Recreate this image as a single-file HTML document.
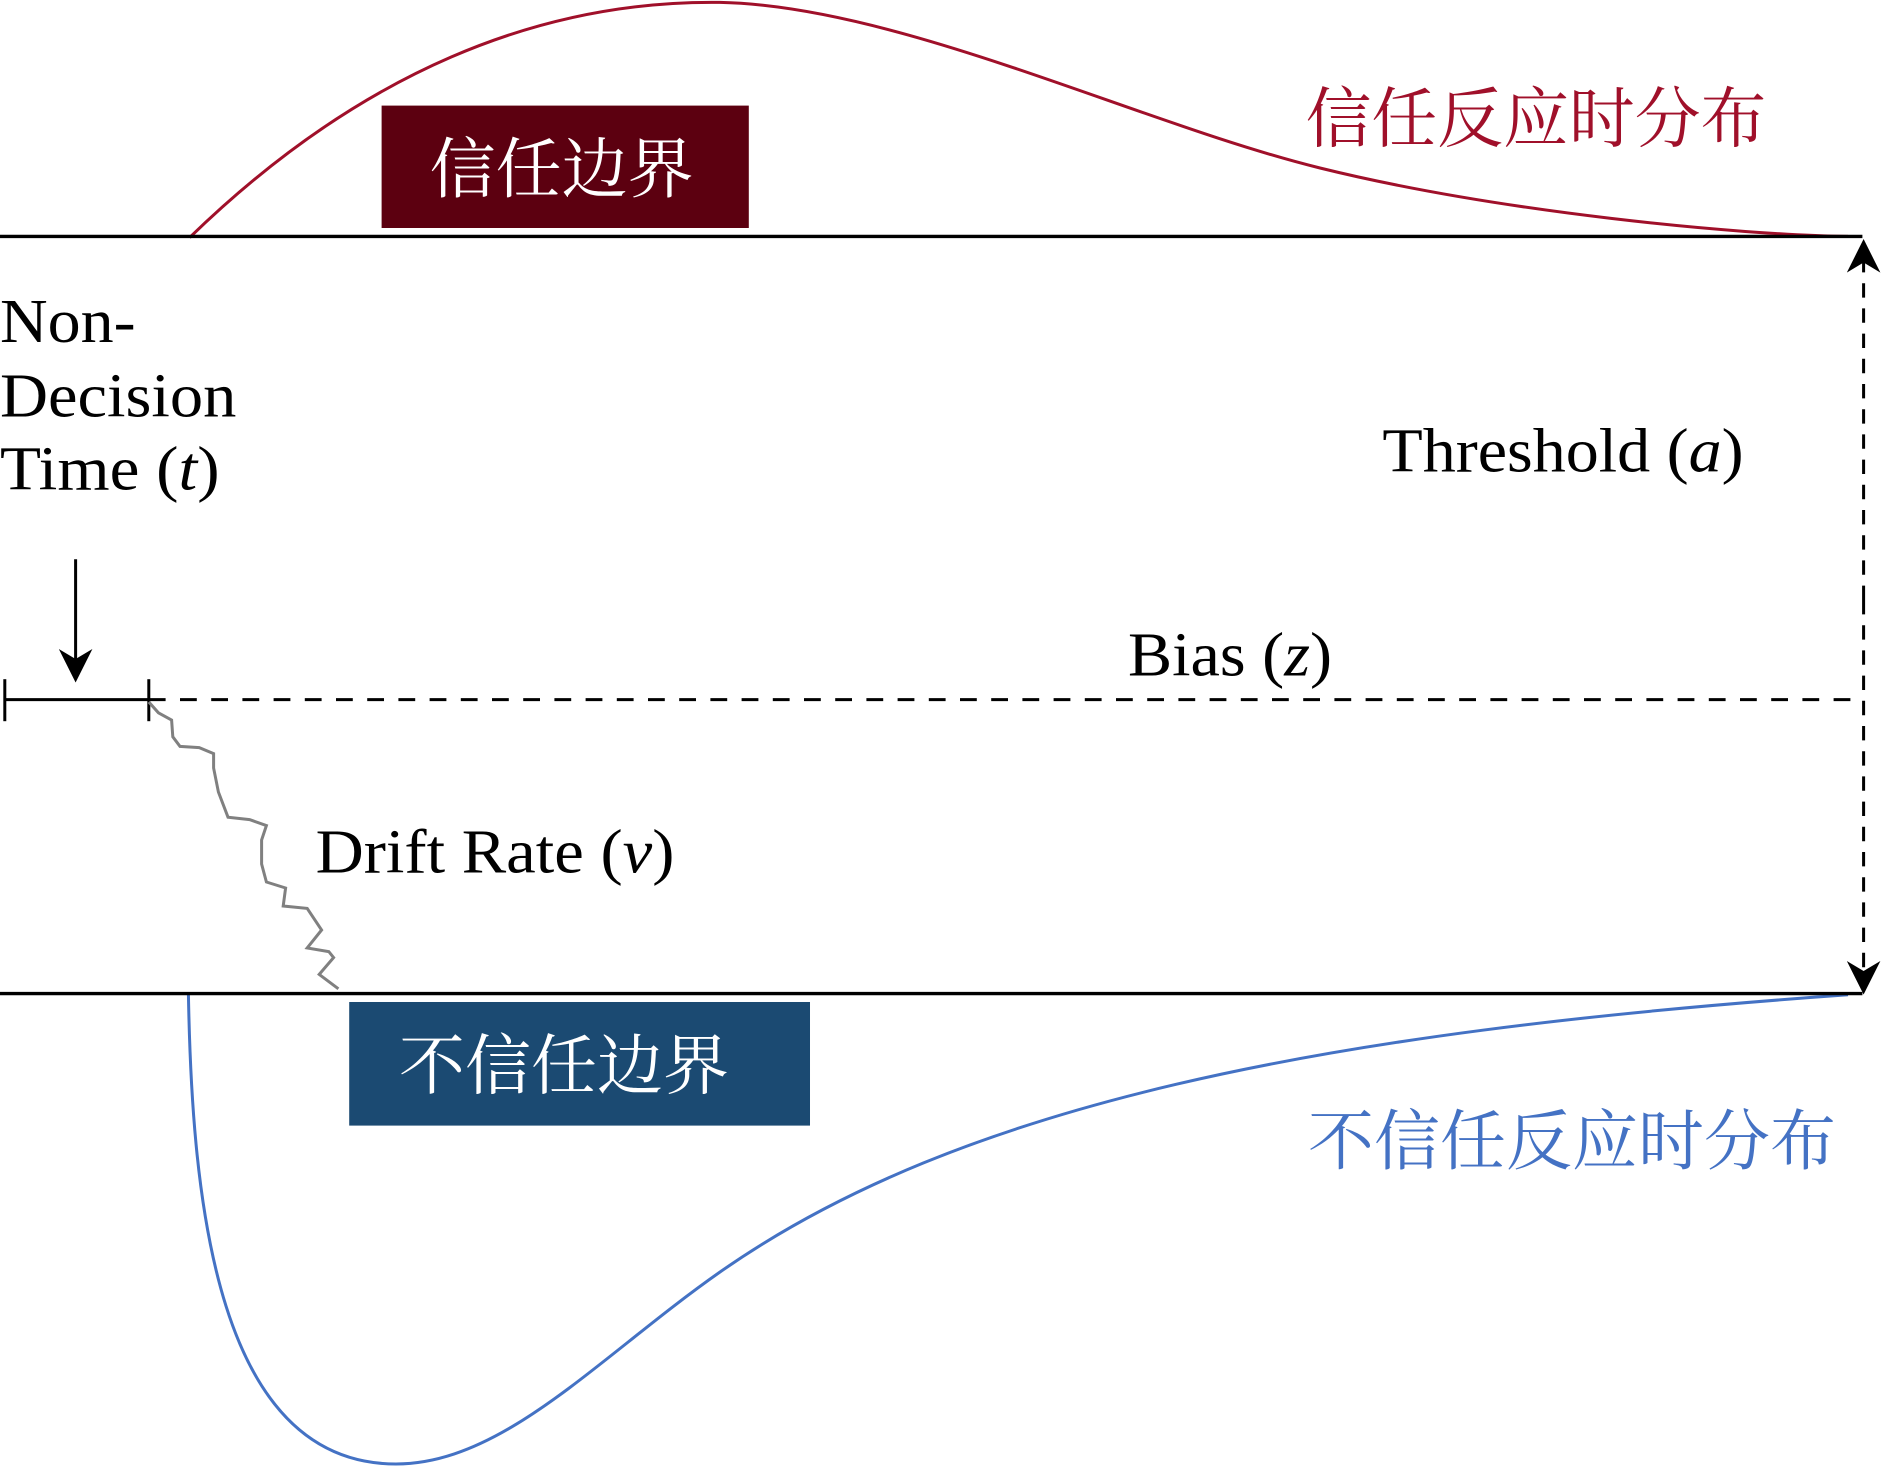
<!DOCTYPE html>
<html><head><meta charset="utf-8"><style>
html,body{margin:0;padding:0;background:#fff;}
svg{display:block;}
.s{font-family:"Liberation Serif",serif;font-size:52px;fill:#000;}
.c{font-family:"Liberation Serif","Noto Serif CJK SC",serif;font-size:55px;}
</style></head><body>
<svg width="1882" height="1469" viewBox="0 0 1568.33 1224.17" xmlns="http://www.w3.org/2000/svg">
<defs>
<marker id="ah2" viewBox="0 0 10 10" refX="9" refY="5" markerWidth="30" markerHeight="28" orient="auto" markerUnits="userSpaceOnUse">
<path d="M0,0 L10,5 L0,10 L3,5 z" fill="#000"/></marker>
</defs>
<path d="M158,198 C300,60 450,0 600,2 C750,5 950,103 1100,140 C1250,177 1450,196 1540,197" fill="none" stroke="#a0102a" stroke-width="2.5"/>
<path d="M157,828 C160,1000 180,1220 330,1220 C420,1220 500,1130 600,1060 C800,920 1100,860 1540,829" fill="none" stroke="#4472c4" stroke-width="2.5"/>
<line x1="0" y1="197" x2="1552" y2="197" stroke="#000" stroke-width="2.8"/>
<line x1="0" y1="828" x2="1552" y2="828" stroke="#000" stroke-width="2.8"/>
<rect x="318" y="88" width="306" height="102" fill="#5c0010"/>
<text x="468" y="160" text-anchor="middle" class="c" fill="#fff">信任边界</text>
<rect x="291" y="835" width="384" height="103" fill="#1b4a72"/>
<text x="470" y="907" text-anchor="middle" class="c" fill="#fff">不信任边界</text>
<text x="1088" y="118" class="c" fill="#a0102a" textLength="384" lengthAdjust="spacingAndGlyphs">信任反应时分布</text>
<text x="1090" y="970" class="c" fill="#4472c4" textLength="440" lengthAdjust="spacingAndGlyphs">不信任反应时分布</text>
<line x1="1553" y1="500" x2="1553" y2="202" stroke="#000" stroke-width="2.5" stroke-dasharray="12,9" marker-end="url(#ah2)"/>
<line x1="1553" y1="500" x2="1553" y2="826" stroke="#000" stroke-width="2.5" stroke-dasharray="12,9" marker-end="url(#ah2)"/>
<line x1="124" y1="583" x2="1552" y2="583" stroke="#000" stroke-width="2.5" stroke-dasharray="14,12"/>
<line x1="4" y1="583" x2="124" y2="583" stroke="#000" stroke-width="2.5"/>
<line x1="4" y1="566" x2="4" y2="601" stroke="#000" stroke-width="2.5"/>
<line x1="124" y1="566" x2="124" y2="601" stroke="#000" stroke-width="2.5"/>
<line x1="63" y1="466" x2="63" y2="566" stroke="#000" stroke-width="2.5" marker-end="url(#ah2)"/>
<polyline points="124,585 132,594 143,600 144,614 150,622 166,623 178,628 178,640 182,660 190,681 208,683 222,688 218,700 218,720 222,735 238,740 236,755 256,757 268,775 256,790 274,793 278,798 266,812 282,824" fill="none" stroke="#808080" stroke-width="2.5"/>
<text x="0" y="285" class="s" textLength="113" lengthAdjust="spacingAndGlyphs">Non-</text>
<text x="0" y="347" class="s" textLength="197" lengthAdjust="spacingAndGlyphs">Decision</text>
<text x="0" y="408" class="s" textLength="183" lengthAdjust="spacingAndGlyphs">Time (<tspan font-style="italic">t</tspan>)</text>
<text x="1152" y="393" class="s" textLength="301" lengthAdjust="spacingAndGlyphs">Threshold (<tspan font-style="italic">a</tspan>)</text>
<text x="940" y="563" class="s" textLength="170" lengthAdjust="spacingAndGlyphs">Bias (<tspan font-style="italic">z</tspan>)</text>
<text x="263" y="727" class="s" textLength="299" lengthAdjust="spacingAndGlyphs">Drift Rate (<tspan font-style="italic">v</tspan>)</text>
</svg>
</body></html>
